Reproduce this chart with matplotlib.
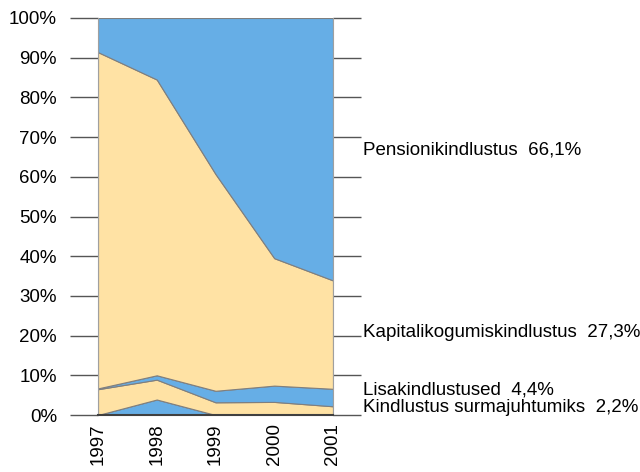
import matplotlib.pyplot as plt
import numpy as np

plt.rcParams['font.family'] = ['Liberation Sans', 'DejaVu Sans']

years = [1997, 1998, 1999, 2000, 2001]
# shares in %, bottom to top
muu = [0.0, 3.9, 0.0, 0.0, 0.0]
surm = [6.5, 5.0, 3.2, 3.3, 2.2]
lisa = [0.2, 1.1, 2.9, 4.1, 4.4]
kapital = [84.7, 74.5, 54.6, 32.1, 27.3]
pension = [8.6, 15.5, 39.3, 60.5, 66.1]

series = [muu, surm, lisa, kapital, pension]
colors = ['#66aee6', '#ffe2a4', '#66aee6', '#ffe2a4', '#66aee6']

labels = ['Pensionikindlustus  66,1%', 'Kapitalikogumiskindlustus  27,3%',
          'Lisakindlustused  4,4%', 'Kindlustus surmajuhtumiks  2,2%']
label_y = [66.8, 20.7, 6.3, 2.0]

fig = plt.figure(figsize=(6.4, 4.72), dpi=100)
ax = fig.add_axes([98/640, 57/472, 235/640, 397/472])

data = np.array(series)
ax.stackplot(years, data, colors=colors, edgecolor='#7f7f7f', linewidth=0.8)

ax.set_xlim(1997, 2001)
ax.set_ylim(0, 100)
ax.set_yticks(range(0, 101, 10))
ax.set_yticklabels([f'{v}%' for v in range(0, 101, 10)], fontsize=13.5)
ax.set_xticks(years)
ax.set_xticklabels([str(y) for y in years], rotation=90, fontsize=13.5)
ax.tick_params(axis='y', which='both', length=20, width=1, color='#555555',
               pad=9.5, right=True, direction='out')
ax.tick_params(axis='x', length=0, pad=6)

for side in ['left', 'right']:
    ax.spines[side].set_color('#a0a0a0')
ax.spines['top'].set_visible(False)
ax.spines['bottom'].set_color('#404040')
ax.spines['bottom'].set_linewidth(1.5)

for txt, yv in zip(labels, label_y):
    ax.annotate(txt, xy=(1, yv / 100), xycoords='axes fraction',
                xytext=(30, 0), textcoords='offset pixels',
                va='center', ha='left', fontsize=13.5)

fig.savefig('out.png', dpi=100)
